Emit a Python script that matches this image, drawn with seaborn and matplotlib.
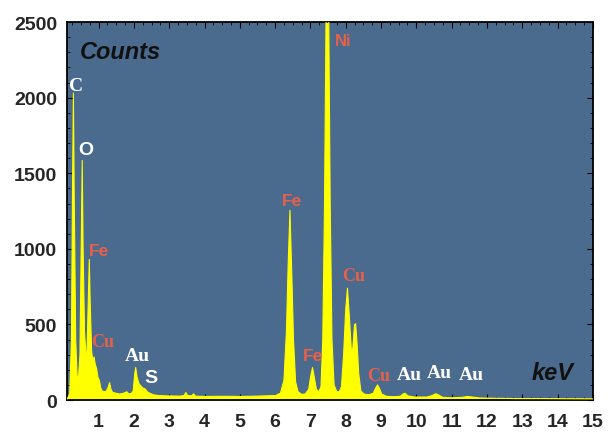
import pandas as pd
import matplotlib.pyplot as plt
from matplotlib.ticker import MultipleLocator
import seaborn as sns

# EDS spectrum (keV, counts)
energy_kev = [0.10, 0.18, 0.23, 0.26, 0.285, 0.31, 0.35, 0.39, 0.43, 0.47,
              0.50, 0.535, 0.56, 0.60, 0.64, 0.67, 0.70, 0.735, 0.76, 0.80,
              0.83, 0.87, 0.90, 0.94, 0.98, 1.02, 1.06, 1.10, 1.16, 1.22,
              1.27, 1.31, 1.35, 1.40, 1.50, 1.60, 1.70, 1.80, 1.86, 1.93,
              1.98, 2.02, 2.05, 2.09, 2.14, 2.19, 2.25, 2.31, 2.38, 2.45,
              2.55, 2.70, 2.90, 3.10, 3.30, 3.42, 3.47, 3.52, 3.64, 3.69,
              3.74, 4.00, 4.50, 5.00, 5.50, 6.00, 6.15, 6.25, 6.32, 6.37,
              6.42, 6.47, 6.52, 6.58, 6.65, 6.75, 6.85, 6.95, 7.01, 7.06,
              7.11, 7.17, 7.24, 7.30, 7.35, 7.40, 7.44, 7.48, 7.52, 7.56,
              7.61, 7.67, 7.75, 7.82, 7.88, 7.94, 8.00, 8.05, 8.10, 8.16,
              8.20, 8.25, 8.28, 8.32, 8.37, 8.43, 8.52, 8.65, 8.78, 8.85,
              8.90, 8.95, 9.02, 9.15, 9.35, 9.55, 9.62, 9.68, 9.76, 9.95,
              10.30, 10.45, 10.55, 10.62, 10.75, 11.00, 11.30, 11.45, 11.60, 11.80,
              12.20, 12.80, 13.50, 14.20, 15.00]
counts = [5, 40, 400, 1400, 2030, 1300, 400, 160, 150, 300,
          900, 1585, 1000, 450, 300, 320, 600, 930, 650, 330,
          260, 285, 240, 210, 150, 130, 80, 60, 55, 60,
          85, 115, 70, 50, 45, 40, 45, 55, 40, 45,
          60, 170, 215, 150, 110, 95, 80, 75, 55, 45,
          35, 30, 28, 27, 26, 30, 50, 30, 28, 42,
          26, 24, 25, 24, 26, 30, 45, 130, 450, 900,
          1255, 850, 400, 120, 55, 38, 40, 70, 160, 215,
          150, 70, 55, 90, 400, 1300, 2500, 3450, 2500, 1300,
          400, 100, 55, 55, 90, 300, 600, 740, 560, 330,
          340, 500, 505, 380, 170, 60, 40, 35, 45, 80,
          100, 80, 40, 25, 22, 25, 40, 45, 28, 20,
          20, 30, 42, 35, 18, 15, 18, 24, 20, 14,
          12, 10, 10, 9, 8]

df = pd.DataFrame({"keV": energy_kev, "counts": counts})

sns.set_style("ticks")
plt.rcParams["font.family"] = ["Liberation Sans", "DejaVu Sans"]

fig = plt.figure(figsize=(6.08, 4.35), dpi=100)
ax = fig.add_axes([0.110, 0.078, 0.865, 0.869])
ax.set_facecolor("#4A6A8E")

ax.fill_between(df["keV"], 0, df["counts"], color="#FFFF00", linewidth=0, zorder=2)
sns.lineplot(data=df, x="keV", y="counts", ax=ax, color="#FFFF00", linewidth=0.8, zorder=3)

ax.set_xlim(0.1, 15)
ax.set_ylim(0, 2500)
ax.set_xticks(range(1, 16))
ax.set_yticks([0, 500, 1000, 1500, 2000, 2500])
ax.xaxis.set_minor_locator(MultipleLocator(0.25))
ax.yaxis.set_minor_locator(MultipleLocator(100))
ax.tick_params(which="both", direction="in", top=True, right=True, color="black")
ax.tick_params(which="major", length=4, width=0.8)
ax.tick_params(which="minor", length=2.5, width=0.6)
ax.tick_params(axis="x", which="major", labelsize=14, pad=9)
ax.tick_params(axis="y", which="major", labelsize=14, pad=7)
for lab in ax.get_xticklabels() + ax.get_yticklabels():
    lab.set_fontweight("bold")
for sp in ax.spines.values():
    sp.set_linewidth(1.3)
    sp.set_color("black")
ax.set_xlabel("")
ax.set_ylabel("")

red = "#E8604A"
serif = ["Liberation Serif", "DejaVu Serif"]
sans = ["Liberation Sans", "DejaVu Sans"]
# element labels: text, x, y, colour, family, size
labels = [
    ("C", 0.37, 2083, "white", serif, 14),
    ("O", 0.65, 1655, "white", sans, 14),
    ("Fe", 1.02, 990, red, sans, 12.5),
    ("Cu", 1.12, 386, red, serif, 13),
    ("Au", 2.11, 298, "white", serif, 14),
    ("S", 2.47, 150, "white", sans, 14),
    ("Fe", 6.47, 1323, red, sans, 12.5),
    ("Ni", 7.93, 2376, red, sans, 12),
    ("Fe", 7.08, 298, red, sans, 12.5),
    ("Cu", 8.21, 827, red, serif, 13),
    ("Cu", 8.94, 165, red, serif, 13),
    ("Au", 9.81, 172, "white", serif, 14),
    ("Au", 10.64, 183, "white", serif, 14),
    ("Au", 11.56, 172, "white", serif, 14),
]
for txt, x, y, c, fam, fs in labels:
    ax.text(x, y, txt, color=c, family=fam, fontsize=fs, fontweight="bold",
            ha="center", va="center", zorder=4)

ax.text(1.62, 2304, "Counts", fontsize=17, fontweight="bold", fontstyle="italic",
        color="#111111", ha="center", va="center", zorder=4)
ax.text(13.86, 183, "keV", fontsize=17, fontweight="bold", fontstyle="italic",
        color="#111111", ha="center", va="center", zorder=4)

plt.savefig("out.png", dpi=100)
